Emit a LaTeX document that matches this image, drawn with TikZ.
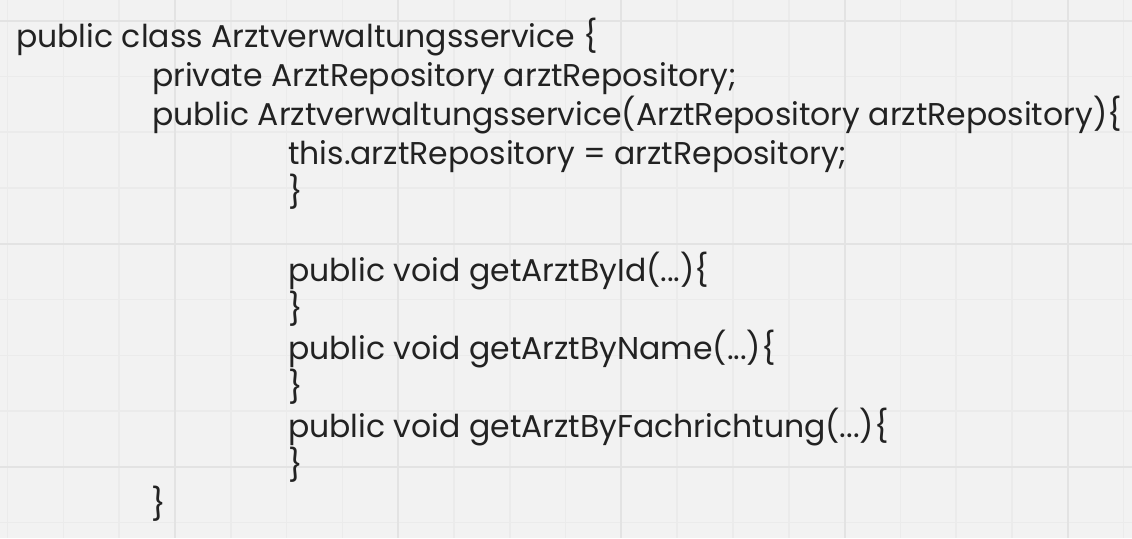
\documentclass[tikz,border=0pt]{standalone}
\usepackage{fontspec}
\setmainfont{Poppins}
\definecolor{bgc}{HTML}{F2F2F2}
\definecolor{minorc}{HTML}{EBEBEB}
\definecolor{majorc}{HTML}{E3E3E3}
\definecolor{txt}{HTML}{222222}
\begin{document}
\begin{tikzpicture}[x=1pt,y=-1pt,
  codeline/.style={anchor=base west,inner sep=0pt,text=txt,font=\fontsize{31.5}{36}\selectfont}]
\useasboundingbox (0,0) rectangle (1132,538);
\fill[bgc] (0,0) rectangle (1132,538);
\foreach \k in {0,...,20} {
  \pgfmathsetmacro{\xx}{7.6+55.8*\k}
  \draw[minorc,line width=1.5pt] (\xx,0) -- (\xx,538);
}
\foreach \k in {0,...,9} {
  \pgfmathsetmacro{\yy}{20.5+55.8*\k}
  \draw[minorc,line width=1.5pt] (0,\yy) -- (1132,\yy);
}
\foreach \k in {3,7,11,15,19} {
  \pgfmathsetmacro{\xx}{7.6+55.8*\k}
  \draw[majorc,line width=2pt] (\xx,0) -- (\xx,538);
}
\foreach \k in {0,4,8} {
  \pgfmathsetmacro{\yy}{20.5+55.8*\k}
  \draw[majorc,line width=2pt] (0,\yy) -- (1132,\yy);
}
\node[codeline] (l1) at (16,47) {public class Arztverwaltungsservice \{};
\node[codeline] (l2) at (152,86) {private ArztRepository arztRepository;};
\node[codeline] (l3) at (152,125) {public Arztverwaltungsservice(ArztRepository arztRepository)\{};
\node[codeline] (l4) at (288,164) {this.arztRepository = arztRepository;};
\node[codeline] (l5) at (288,203) {\}};
\node[codeline] (l7) at (288,281) {public void getArztById(...)\{};
\node[codeline] (l8) at (288,320) {\}};
\node[codeline] (l9) at (288,359) {public void getArztByName(...)\{};
\node[codeline] (l10) at (288,398) {\}};
\node[codeline] (l11) at (288,437) {public void getArztByFachrichtung(...)\{};
\node[codeline] (l12) at (288,476) {\}};
\node[codeline] (l13) at (151,515) {\}};
\end{tikzpicture}
\end{document}
